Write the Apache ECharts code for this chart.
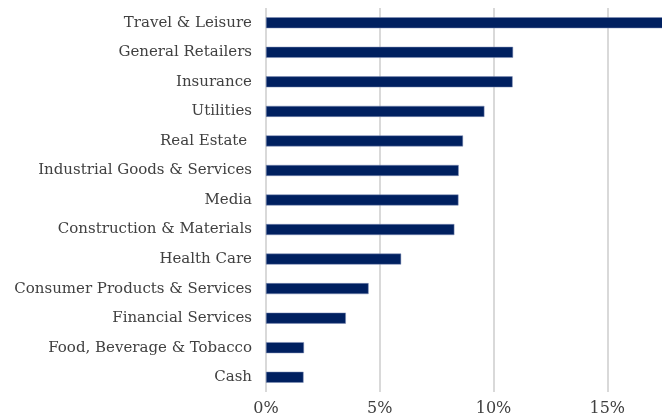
<!DOCTYPE html>
<html>
<head>
<meta charset="utf-8">
<script src="https://cdn.jsdelivr.net/npm/echarts@6/dist/echarts.min.js"></script>
<style>html,body{margin:0;padding:0;background:#fff}#c{width:662px;height:415px}</style>
</head>
<body>
<div id="c"></div>
<script>
const categories = ["Travel & Leisure","General Retailers","Insurance","Utilities","Real Estate ","Industrial Goods & Services","Media","Construction & Materials","Health Care","Consumer Products & Services","Financial Services","Food, Beverage & Tobacco","Cash"];
const weights = [17.5,10.86,10.84,9.6,8.66,8.47,8.46,8.28,5.94,4.51,3.51,1.67,1.65];
const chart = echarts.init(document.getElementById('c'));
chart.setOption({
  animation:false,
  grid:{left:266,width:455,top:8,bottom:23,containLabel:false,outerBoundsMode:'none'},
  xAxis:{type:'value',min:0,max:20,interval:5,
    axisLine:{show:false},axisTick:{show:false},
    splitLine:{show:true,lineStyle:{color:'#d9d9d9',width:2}},
    axisLabel:{formatter:'{value}%',color:'#404040',fontFamily:'DejaVu Serif',fontSize:16,margin:9}},
  yAxis:{type:'category',data:categories,inverse:true,
    axisLine:{show:false},axisTick:{show:false},
    axisLabel:{color:'#404040',fontFamily:'DejaVu Serif',fontSize:15,margin:14}},
  series:[{type:'bar',data:weights,barWidth:11,itemStyle:{color:'#002060',borderColor:'#8090b8',borderWidth:0.5}}]
});
</script>
</body>
</html>
